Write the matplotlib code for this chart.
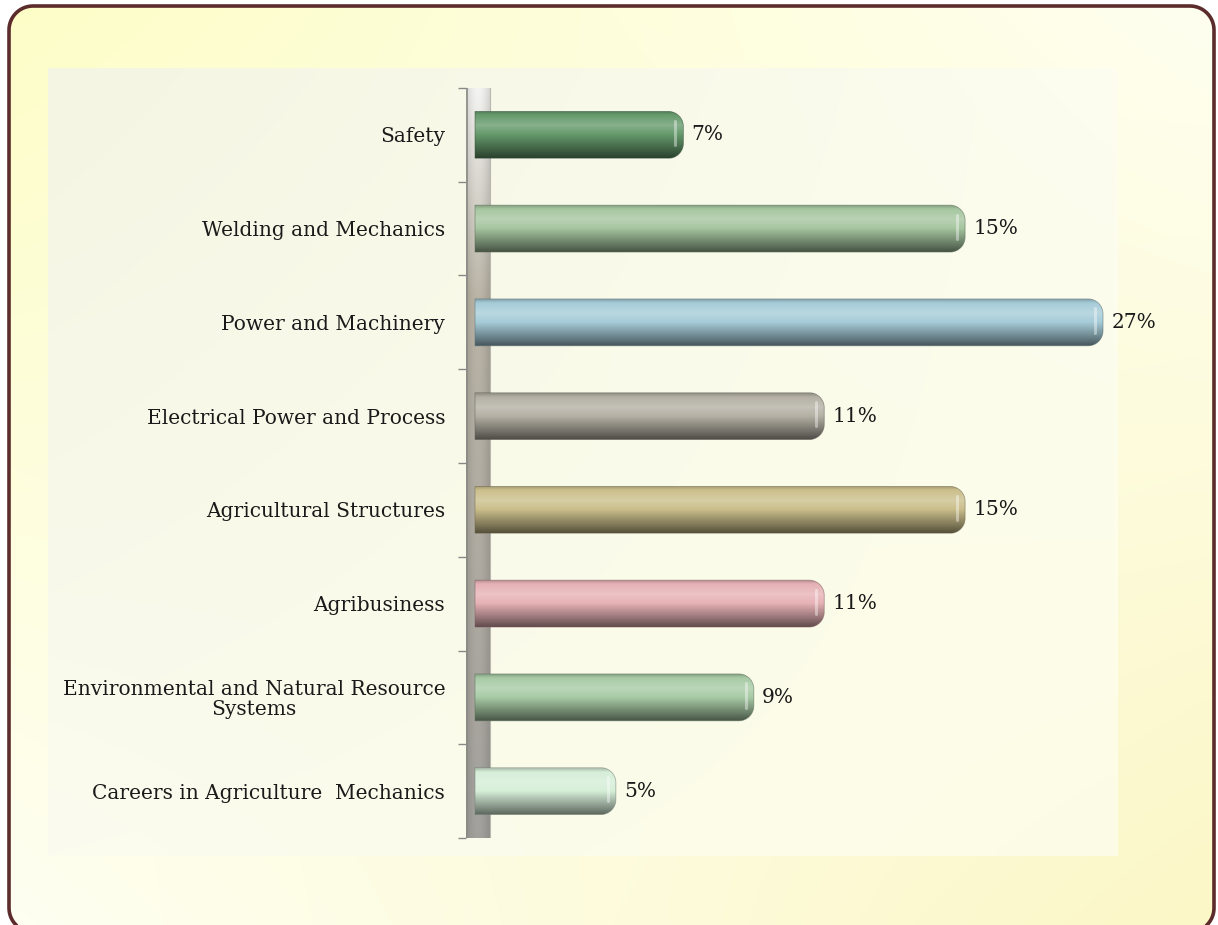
import numpy as np
import matplotlib
matplotlib.use("Agg")
import matplotlib.pyplot as plt
from matplotlib.patches import PathPatch
from matplotlib.path import Path
from matplotlib.colors import to_rgb

# ---------------- data ----------------
categories = [
    "Safety",
    "Welding and Mechanics",
    "Power and Machinery",
    "Electrical Power and Process",
    "Agricultural Structures",
    "Agribusiness",
    "Environmental and Natural Resource\nSystems",
    "Careers in Agriculture  Mechanics",
]
values = [7.1, 16.7, 21.4, 11.9, 16.7, 11.9, 9.5, 4.8]
value_labels = ["7%", "15%", "27%", "11%", "15%", "11%", "9%", "5%"]
bar_colors = ["#669a6c", "#a6c6a0", "#a6ccd8", "#b4b0a4",
              "#cbbf8c", "#e6b2b6", "#a8cba6", "#d6eed8"]

W, H = 1218, 925
fig = plt.figure(figsize=(W / 100, H / 100), dpi=100)
fig.patch.set_facecolor("white")

# ---------------- background (pixel coordinates) ----------------
bg = fig.add_axes([0, 0, 1, 1], zorder=-5)
bg.axis("off")


def bilinear(tl, tr, bl, br, n=120):
    tl, tr, bl, br = [np.array(to_rgb(c)) for c in (tl, tr, bl, br)]
    xx, yy = np.meshgrid(np.linspace(0, 1, n), np.linspace(0, 1, n))
    xx = xx[..., None]
    yy = yy[..., None]
    top = tl * (1 - xx) + tr * xx
    bot = bl * (1 - xx) + br * xx
    return top * (1 - yy) + bot * yy


def rounded_rect_path(x0, y0, x1, y1, r):
    th = np.linspace(0, np.pi / 2, 16)
    pts = []
    pts += list(zip(x0 + r - r * np.cos(th), y0 + r - r * np.sin(th)))
    pts += list(zip(x1 - r + r * np.sin(th), y0 + r - r * np.cos(th)))
    pts += list(zip(x1 - r + r * np.cos(th), y1 - r + r * np.sin(th)))
    pts += list(zip(x0 + r - r * np.sin(th), y1 - r + r * np.cos(th)))
    pts.append(pts[0])
    verts = np.array(pts)
    codes = [Path.MOVETO] + [Path.LINETO] * (len(verts) - 2) + [Path.CLOSEPOLY]
    return Path(verts, codes)


frame_path = rounded_rect_path(9, 6, 1214, 932, 24)
im = bg.imshow(bilinear("#fdfdc8", "#fffff0", "#fffff2", "#fbf7c6"),
               extent=(9, 1214, 932, 6), aspect="auto", zorder=1,
               interpolation="bilinear")
clipf = PathPatch(frame_path, facecolor="none", edgecolor="none",
                  transform=bg.transData)
bg.add_patch(clipf)
im.set_clip_path(clipf)
bg.add_patch(PathPatch(frame_path, facecolor="none", edgecolor="#5c2b2b",
                       lw=2.6, zorder=3))
bg.imshow(bilinear("#f5f5e3", "#fdfdf0", "#fbfbef", "#fdfde6"),
          extent=(48, 1118, 856, 68), aspect="auto", zorder=2,
          interpolation="bilinear")
bg.set_xlim(0, W)
bg.set_ylim(H, 0)

# ---------------- main axes ----------------
ax_left_px, ax_right_px, ax_top_px, ax_bot_px = 466, 1118, 88, 838
zero_px = 475
end_px_of_max = 1103
scale = (end_px_of_max - zero_px) / max(values)  # px per unit
ax = fig.add_axes([ax_left_px / W, 1 - ax_bot_px / H,
                   (ax_right_px - ax_left_px) / W, (ax_bot_px - ax_top_px) / H])
ax.patch.set_alpha(0)
x_lo = -(zero_px - ax_left_px) / scale
x_hi = (ax_right_px - zero_px) / scale
n = len(categories)
y_px_per_unit = (ax_bot_px - ax_top_px) / n

# wall (3D floor of the category axis)
wall_right = (490 - zero_px) / scale
ny, nx = 300, 30
tv = np.linspace(0, 1, ny)[:, None]
hx = np.linspace(0, 1, nx)[None, :]
top_c = np.array(to_rgb("#f4f4f2"))
mid_c = np.array(to_rgb("#bab4a6"))
bot_c = np.array(to_rgb("#a3a19d"))
w1 = np.clip(tv / 0.28, 0, 1)[..., None]
w2 = np.clip((tv - 0.28) / 0.72, 0, 1)[..., None]
col = top_c * (1 - w1) + mid_c * w1
col = col * (1 - w2) + bot_c * w2
shade = (0.88 + 0.12 * np.sin(np.pi * hx))[..., None]
wall_img = np.clip(col * shade, 0, 1)
ax.imshow(wall_img, extent=(x_lo, wall_right, n - 0.5, -0.5), aspect="auto",
          zorder=1, interpolation="bilinear")
ax.plot([x_lo + 0.03, x_lo + 0.03], [-0.5, n - 0.5], color="#8a8a86", lw=1.2,
        zorder=2)
ax.plot([wall_right, wall_right], [-0.5, n - 0.5], color="#b8b8b0", lw=0.8,
        zorder=2)

# bars
bar_h = 0.50
r_px = 15
rx = r_px / scale
ry = r_px / y_px_per_unit

prof_t = np.array([0.0, 0.08, 0.3, 0.58, 0.85, 1.0])
prof_f = np.array([0.8, 1.0, 1.22, 0.9, 0.6, 0.42])


def shade_color(c, f):
    c = np.array(to_rgb(c))
    if f >= 1:
        return c + (1 - c) * (f - 1)
    return c * f


for i, (v, c) in enumerate(zip(values, bar_colors)):
    y0 = i - bar_h / 2
    y1 = i + bar_h / 2
    t = np.linspace(0, 1, 120)
    f = np.interp(t, prof_t, prof_f)
    grad = np.array([shade_color(c, ff) for ff in f])[:, None, :]
    grad = np.repeat(grad, 4, axis=1)
    img = ax.imshow(np.clip(grad, 0, 1), extent=(0, v, y1, y0), aspect="auto",
                    zorder=3, interpolation="bilinear")
    th = np.linspace(0, np.pi / 2, 20)
    top_arc = np.column_stack([v - rx + rx * np.sin(th),
                               y0 + ry - ry * np.cos(th)])
    bot_arc = np.column_stack([v - rx + rx * np.cos(th),
                               y1 - ry + ry * np.sin(th)])
    verts = np.vstack([[0, y0], top_arc, bot_arc, [0, y1], [0, y0]])
    codes = [Path.MOVETO] + [Path.LINETO] * (len(verts) - 2) + [Path.CLOSEPOLY]
    pth = Path(verts, codes)
    clip = PathPatch(pth, transform=ax.transData, facecolor="none",
                     edgecolor="none")
    ax.add_patch(clip)
    img.set_clip_path(clip)
    ax.add_patch(PathPatch(pth, facecolor="none", edgecolor=shade_color(c, 0.55),
                           lw=0.6, alpha=0.6, zorder=4))
    # highlight on the end cap
    hxp = v - 8 / scale
    ax.plot([hxp, hxp], [i - bar_h * 0.3, i + bar_h * 0.22], color="white",
            lw=2.2, alpha=0.4, zorder=4, solid_capstyle="round")
    ax.annotate(value_labels[i], xy=(v, i), xytext=(6, 0),
                textcoords="offset points", va="center", ha="left",
                fontsize=14.5, family="DejaVu Serif", color="#1a1a1a", zorder=5)

# ticks
ax.set_yticks(np.arange(-0.5, n, 1.0))
ax.set_yticklabels([])
ax.set_yticks(np.arange(n), minor=True)
ax.set_yticklabels(categories, minor=True, fontsize=14.5, family="DejaVu Serif",
                   color="#1a1a1a", ha="right", multialignment="center",
                   linespacing=1.05)
ax.tick_params(axis="y", which="major", length=6, width=1, color="#888888",
               direction="out")
ax.tick_params(axis="y", which="minor", length=0, pad=15)
ax.set_xticks([])
for s in ax.spines.values():
    s.set_visible(False)
ax.set_xlim(x_lo, x_hi)
ax.set_ylim(n - 0.5, -0.5)

fig.savefig("out.png", dpi=100, facecolor=fig.get_facecolor())
